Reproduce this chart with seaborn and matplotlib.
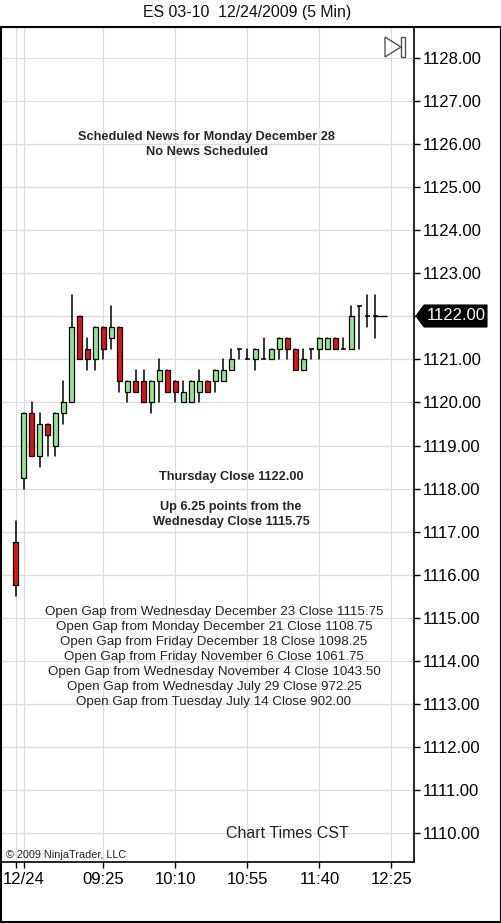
import numpy as np
import pandas as pd
import matplotlib
matplotlib.use("Agg")
import matplotlib.pyplot as plt
from matplotlib.patches import Rectangle, Polygon
import seaborn as sns

# ---------------- data ----------------
opens = [1116.75, 1118.25, 1119.75, 1118.75, 1119.50, 1119.00, 1119.75, 1120.00, 1122.00, 1121.25,
         1121.00, 1121.75, 1121.50, 1121.75, 1120.25, 1120.50, 1120.50, 1120.00, 1120.50, 1120.75,
         1120.50, 1120.00, 1120.00, 1120.25, 1120.50, 1120.50, 1120.50, 1120.75, 1121.25, 1121.00,
         1121.00, 1121.00, 1121.00, 1121.25, 1121.50, 1121.25, 1120.75, 1121.25, 1121.25, 1121.25,
         1121.50, 1121.25, 1121.25, 1122.25, 1122.00, 1122.00]
highs = [1117.25, 1119.75, 1120.00, 1119.75, 1119.50, 1119.75, 1120.50, 1122.50, 1122.00, 1121.50,
         1121.75, 1121.75, 1122.25, 1121.75, 1120.50, 1120.75, 1120.75, 1120.50, 1121.00, 1120.75,
         1120.50, 1120.50, 1120.50, 1120.75, 1120.50, 1120.75, 1121.00, 1121.25, 1121.25, 1121.25,
         1121.25, 1121.50, 1121.25, 1121.50, 1121.50, 1121.25, 1121.25, 1121.25, 1121.50, 1121.50,
         1121.50, 1121.50, 1122.25, 1122.25, 1122.50, 1122.50]
lows = [1115.50, 1118.00, 1118.75, 1118.50, 1118.75, 1118.75, 1119.50, 1120.00, 1121.00, 1120.75,
        1120.75, 1121.00, 1121.25, 1120.25, 1120.00, 1120.25, 1120.00, 1119.75, 1120.00, 1120.25,
        1120.00, 1120.00, 1120.00, 1120.00, 1120.25, 1120.25, 1120.50, 1120.75, 1121.00, 1121.00,
        1120.75, 1121.00, 1121.00, 1121.00, 1121.00, 1120.75, 1120.75, 1121.00, 1121.00, 1121.25,
        1121.25, 1121.25, 1121.25, 1121.25, 1121.75, 1121.50]
closes = [1115.75, 1119.75, 1118.75, 1119.50, 1119.25, 1119.75, 1120.00, 1121.75, 1121.00, 1121.00,
          1121.75, 1121.25, 1121.75, 1120.50, 1120.50, 1120.25, 1120.00, 1120.50, 1120.75, 1120.25,
          1120.25, 1120.25, 1120.50, 1120.50, 1120.25, 1120.75, 1120.75, 1121.00, 1121.25, 1121.00,
          1121.25, 1121.00, 1121.25, 1121.50, 1121.25, 1120.75, 1121.00, 1121.25, 1121.50, 1121.50,
          1121.25, 1121.25, 1122.00, 1122.25, 1122.00, 1122.00]

x_tick_pos = [0, 1, 11, 20, 29, 38, 47]
x_tick_labels = ["", "12/24", "09:25", "10:10", "10:55", "11:40", "12:25"]
y_ticks = [1110, 1111, 1112, 1113, 1114, 1115, 1116, 1117, 1118, 1119,
           1120, 1121, 1122, 1123, 1124, 1125, 1126, 1127, 1128]
last_price = 1122.00

title = "ES 03-10  12/24/2009 (5 Min)"
news_lines = ["Scheduled News for Monday December 28", "No News Scheduled"]
close_lines = ["Thursday Close 1122.00", "Up 6.25 points from the", "Wednesday Close 1115.75"]
gap_lines = ["Open Gap from Wednesday December 23 Close 1115.75",
             "Open Gap from Monday December 21 Close 1108.75",
             "Open Gap from Friday December 18 Close 1098.25",
             "Open Gap from Friday November 6 Close 1061.75",
             "Open Gap from Wednesday November 4 Close 1043.50",
             "Open Gap from Wednesday July 29 Close 972.25",
             "Open Gap from Tuesday July 14 Close 902.00"]

# ---------------- styling ----------------
sns.set_style("white")
plt.rcParams["font.family"] = ["Liberation Sans", "DejaVu Sans"]

W, H = 502, 923
fig = plt.figure(figsize=(W / 100, H / 100), dpi=100)


def fx(x):
    return x / W


def fy(y):
    return 1 - y / H


ax_l, ax_r, ax_t, ax_b = 2, 414, 28, 862
ax = fig.add_axes([fx(ax_l), fy(ax_b), fx(ax_r) - fx(ax_l), fy(ax_t) - fy(ax_b)])

n = len(opens)
bars = np.arange(n)
df = pd.DataFrame({"bar": bars, "open": opens, "high": highs, "low": lows, "close": closes})

# wicks via seaborn (one vertical segment per bar)
wick = pd.concat([df[["bar"]].assign(price=df["low"]), df[["bar"]].assign(price=df["high"])])
wick = wick.sort_values(["bar", "price"]).reset_index(drop=True)
sns.lineplot(data=wick, x="bar", y="price", units="bar", estimator=None, sort=False,
             color="black", linewidth=1.1, ax=ax, legend=False, zorder=2)

# bodies
bw = 0.72
up = df[df["close"] > df["open"]]
dn = df[df["close"] < df["open"]]
dj = df[df["close"] == df["open"]]
ax.bar(up["bar"], up["close"] - up["open"], bottom=up["open"], width=bw,
       color="#92E892", edgecolor="black", linewidth=0.9, zorder=3)
ax.bar(dn["bar"], dn["open"] - dn["close"], bottom=dn["close"], width=bw,
       color="#DD1414", edgecolor="black", linewidth=0.9, zorder=3)
ax.hlines(dj["open"], dj["bar"] - bw / 2, dj["bar"] + bw / 2, color="black", linewidth=1.1, zorder=3)
# last price marker line
ax.hlines(last_price, n - 1 - bw / 2, n - 1 + 1.4, color="black", linewidth=1.0, zorder=3)

# axes limits / scales
px_per_pt = (833 - 58) / 18.0
ax.set_ylim(1128 - (ax_b - 58) / px_per_pt, 1128 + (58 - ax_t) / px_per_pt)
ax.set_xlim((ax_l - 15.5) / 8.0, (ax_r - 15.5) / 8.0)

ax.set_xticks(x_tick_pos)
ax.set_xticklabels(x_tick_labels)
ax.yaxis.tick_right()
ax.set_yticks(y_ticks)
ax.set_yticklabels(["" if v == last_price else f"{v:.2f}" for v in y_ticks])
ax.tick_params(axis="y", which="both", right=True, left=False, direction="out",
               length=4, width=1, pad=2.5, labelsize=12, colors="black")
ax.tick_params(axis="x", which="both", bottom=True, direction="out",
               length=4, width=1, pad=3, labelsize=12, colors="black")
ax.set_xlabel("")
ax.set_ylabel("")
ax.grid(True, color="#DCDCDC", linewidth=0.9)
ax.set_axisbelow(True)
for s in ["left", "top"]:
    ax.spines[s].set_visible(False)
for s in ["right", "bottom"]:
    ax.spines[s].set_visible(True)
    ax.spines[s].set_color("black")
    ax.spines[s].set_linewidth(1.2)

# outer frame
fig.patches.append(Rectangle((fx(1), fy(922)), fx(501) - fx(1), fy(27) - fy(922),
                             transform=fig.transFigure, fill=False, edgecolor="black",
                             linewidth=1.5, zorder=10))

# play-to-end icon
fig.patches.append(Polygon([(fx(385), fy(37)), (fx(385), fy(57)), (fx(401), fy(47))],
                           closed=True, transform=fig.transFigure, fill=False,
                           edgecolor="#555555", linewidth=1.0, zorder=10))
fig.patches.append(Rectangle((fx(401.5), fy(57)), fx(4), fy(37) - fy(57),
                             transform=fig.transFigure, fill=False, edgecolor="#555555",
                             linewidth=1.0, zorder=10))

# texts
fig.text(fx(247), fy(13), title, ha="center", va="center", fontsize=11.4, color="#111111")
fig.text(fx(207), fy(137), news_lines[0], ha="center", va="center", fontsize=9.2, fontweight="bold")
fig.text(fx(207), fy(152), news_lines[1], ha="center", va="center", fontsize=9.2, fontweight="bold")
fig.text(fx(231), fy(477), close_lines[0], ha="center", va="center", fontsize=9.2, fontweight="bold")
fig.text(fx(231), fy(507), close_lines[1], ha="center", va="center", fontsize=9.2, fontweight="bold")
fig.text(fx(231), fy(522), close_lines[2], ha="center", va="center", fontsize=9.2, fontweight="bold")
for i, line in enumerate(gap_lines):
    fig.text(fx(214), fy(611.7 + 15.05 * i), line, ha="center", va="center", fontsize=9.6,
             color="#222222")
fig.text(fx(287), fy(833), "Chart Times CST", ha="center", va="center", fontsize=11.5, color="#222222")
fig.text(fx(6), fy(855), "\u00a9 2009 NinjaTrader, LLC", ha="left", va="center", fontsize=7.8,
         color="#222222")

# last price tag
fig.patches.append(Polygon([(fx(416), fy(316)), (fx(424), fy(305)), (fx(487), fy(305)),
                            (fx(487), fy(327)), (fx(424), fy(327))],
                           closed=True, transform=fig.transFigure, facecolor="black",
                           edgecolor="black", linewidth=0.8, zorder=10))
fig.text(fx(456), fy(316), f"{last_price:.2f}", ha="center", va="center", fontsize=12,
         color="white", zorder=11)

fig.savefig("out.png", dpi=100)
